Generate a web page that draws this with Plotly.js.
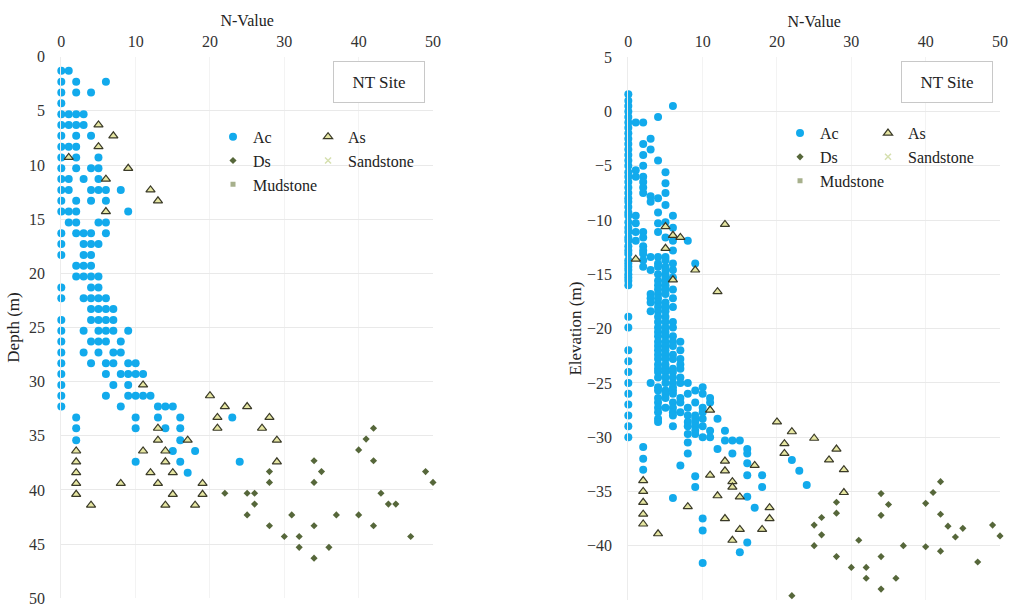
<!DOCTYPE html>
<html><head><meta charset="utf-8">
<script src="https://cdn.plot.ly/plotly-3.0.1.min.js"></script>
<style>html,body{margin:0;padding:0;background:#fff}#chart{width:1010px;height:608px}</style>
</head><body><div id="chart"></div>
<script>
// ---------- Left panel: N-value vs Depth ----------
const leftAcDepths = [1.3,2.3,3.3,4.3,5.3,6.3,7.3,8.3,9.3,10.3,11.3,12.3,13.3,14.3,15.3,16.3,17.3,18.3,19.3,20.3,
  21.3,22.3,23.3,24.3,25.3,26.3,27.3,28.3,29.3,30.3,31.3,32.3,33.3,34.3,35.4,36.4,37.4,38.4];
const leftAcNByRow = [[0,1],[0,2,6],[0,2,4],[0],[0,1,2,3],[0,1,2,3],[0,2,4],[0,1,2],[0,2,5],[0,2,4,5],
  [0,1,3,5],[0,1,4,5,6,8],[0,2,4,6],[0,1,2,9],[1,2,5,6],[0,2,3,4,6],[0,3,4,5],[0,3,4],[2,3,4],[2,3,4,5],
  [0,4,5],[0,3,4,5,6],[4,5,6,7],[0,4,5,6,7],[0,3,5,6,7,9],[0,4,5,6,8],[0,3,5,7,8],[0,4,6,7,9,10],[0,6,8,9,10,11],[0,7,9],
  [0,6,9,10,11,12],[0,8,13,14,15],[2,10,13,16,23],[2,10,14,16],[2,16],[15,18],[10,16,24],[17]];
const leftAsDepths = [6.3,7.3,8.3,9.3,10.3,11.3,12.3,13.3,14.3,30.3,31.3,32.3,33.3,34.3,35.4,36.4,37.4,38.4,39.4,40.4,41.4];
const leftAsNByRow = [[5],[7],[5],[1],[9],[6],[12],[13],[6],[11],[20],[22,25],[21,28],[13,21,27],[13,17,29],[2,11,14],
  [2,14,29],[2,12,15],[2,8,13,19],[2,15,19],[4,14,18]];
const leftDsDepths = [34.3,35.3,36.3,37.3,38.3,39.3,40.3,41.3,42.3,43.3,44.3,45.3,46.3];
const leftDsNByRow = [[42],[41],[40],[34,42],[28,35,49],[28,34,50],[22,25,26,43],[26,44,45],[25,31,37,40],[28,34,42],
  [30,32,47],[32,36],[34]];

// ---------- Right panel: N-value vs Elevation ----------
const rightAcElevs = [1.6,1.0,0.5,0.0,-0.5,-1.0,-1.5,-2.0,-2.5,-3.0,-3.5,-4.0,-4.5,-5.0,-5.4,-5.6,-6.0,-6.5,-6.6,-7.0,
  -7.5,-7.8,-8.0,-8.3,-8.6,-8.8,-9.3,-9.6,-10.2,-10.3,-10.7,-11.1,-11.6,-11.9,-12.4,-12.8,-13.1,-13.4,-13.7,-14.0,
  -14.3,-14.6,-15.0,-15.3,-15.6,-16.0,-16.4,-16.8,-17.2,-17.6,-18.0,-18.4,-18.9,-19.4,-19.9,-20.3,-20.7,-21.2,-21.6,-22.0,
  -22.4,-22.8,-23.0,-23.3,-23.7,-24.0,-24.5,-25.0,-25.4,-25.7,-26.0,-26.4,-26.8,-27.0,-27.3,-27.7,-28.0,-28.3,-28.6,-29.0,
  -29.4,-29.7,-30.0,-30.3,-30.5,-30.9,-31.1,-31.5,-32.0,-32.1,-32.4,-32.6,-33.0,-33.1,-33.5,-33.6,-34.4,-34.6,-35.5,-35.6,
  -36.5,-37.5,-38.6,-39.7,-40.6,-41.6];
const rightAcNByRow = [[0],[0],[0,6],[0],[0,4],[0,1,2],[0],[0],[0,3],[0,2],[0,3],[0,2],[0,4],[0,2],[1],[0,5],[0,1,2],[0,2],[5],[0,2],
  [0,2,5],[3],[0,4],[0,3],[5],[0],[0,4],[0,1,6],[0,5],[1,4],[0,6],[0,1,2,4],[0,2,5],[0,1,6,8],[0,2],[0,2,6],[0,2],[3,4,5],[0,2,5],[0,4,6,9],
  [0,2,4,5],[0,3,5,6],[0,4,5],[0,5,6],[0,4,5],[0,4,5],[4,5,6],[3,4,5],[3,4,6],[3,4,5],[4,5,6],[3,4,5],[0,4,5],[4,5,6],[0,4,5,6],[4,5],[4,5,6],[4,5,6,7],[4,5,6],[0,4,5,7],
  [4,5,6],[4,5,6,7],[0],[4,5,7],[4,5,6,7],[0,4,5,6],[4,5,6,7],[0,3,5,6,7,8],[4,6,10],[4,5,6,9],[0,5,6,8,10],[4,5,7,11],[4,6,7,9,11],[0],[4,5,6,8,10],[4,6,7,10],[0,6,8,9],[4,9,10,12],[4,8,9],[0,6,8,9,10],
  [9,11,13],[8,9],[0,10,11],[13,14,15],[8],[2],[12,16],[8,14,16],[2],[22],[16],[7],[2],[23],[16,18],[9],[24],[9,18],[16],[6],
  [17],[10],[10],[16],[15],[10]];
const rightAsElevs = [-10.4,-10.6,-11.4,-11.6,-12.6,-13.6,-14.6,-15.5,-16.6,-27.5,-28.6,-29.5,-30.1,-30.6,-31.1,-31.5,-32.1,
  -32.2,-32.6,-33.0,-33.1,-33.5,-34.0,-34.1,-34.6,-35.0,-35.1,-35.4,-35.5,-36.0,-36.4,-36.5,-37.1,-37.5,-38.0,-38.5,-38.9,-39.5];
const rightAsNByRow = [[13],[5],[6],[7],[5],[1],[9],[6],[12],[11],[20],[22],[25],[21],[28],[21],[27],
  [13],[17],[29],[13],[11],[2],[14],[14],[2],[29],[12],[15],[2],[8],[19],[2],[13,19],[2],[15,18],[4],[14]];
const rightDsElevs = [-34.1,-35.1,-35.2,-36.0,-36.1,-36.2,-37.0,-37.1,-37.2,-37.4,-38.1,-38.2,-38.4,-39.0,-39.1,-39.2,-39.5,
  -40.0,-40.1,-40.5,-41.0,-41.5,-42.0,-43.0,-44.0,-44.6];
const rightDsNByRow = [[42],[41],[34],[28],[40],[35],[28],[42],[34],[26],[25,49],[43],[45],[26],[50],[44],[31],
  [25,37],[40],[42],[28,34],[47],[30,32],[32,36],[34],[22]];

const legendLabels = ['Ac','As','Ds','Sandstone','Mudstone'];
const xTickVals = [0,10,20,30,40,50];
const depthTickVals = [0,5,10,15,20,25,30,35,40,45,50];
const elevTickVals = [5,0,-5,-10,-15,-20,-25,-30,-35,-40,-45];

function flat(levels, rows){
  const x=[], y=[];
  rows.forEach((r,i)=>r.forEach(n=>{x.push(n); y.push(levels[i]);}));
  return {x, y};
}

const FONT = '"Liberation Serif", "Times New Roman", serif';
const cAc = '#12AAEC', cAsFill = '#E6E6A2', cAsLine = '#3a3a28', cDs = '#56673A', cSand = '#D6E0B0', cMud = '#A7B08C';
const none = {x:[null], y:[null]};

function makeTraces(side, xa, ya, lg1, lg2, ac, as, ds){
  const base = {type:'scatter', mode:'markers', xaxis:xa, yaxis:ya, cliponaxis:false, hoverinfo:'x+y', showlegend:true};
  return [
    Object.assign({}, base, {name:legendLabels[0], x:ac.x, y:ac.y, legend:lg1, legendgroup:side+'a',
      marker:{symbol:'circle', size:8, color:cAc}}),
    Object.assign({}, base, {name:legendLabels[2], x:ds.x, y:ds.y, legend:lg1, legendgroup:side+'c',
      marker:{symbol:'diamond', size:5.5, color:cDs}}),
    Object.assign({}, base, {name:legendLabels[4], x:none.x, y:none.y, legend:lg1, legendgroup:side+'e',
      marker:{symbol:'square', size:5, color:cMud}}),
    Object.assign({}, base, {name:legendLabels[1], x:as.x, y:as.y, legend:lg2, legendgroup:side+'b',
      marker:{symbol:'triangle-up', size:8, color:cAsFill, line:{color:cAsLine, width:1.2}}}),
    Object.assign({}, base, {name:legendLabels[3], x:none.x, y:none.y, legend:lg2, legendgroup:side+'d',
      marker:{symbol:'x-thin', size:6, color:cSand, line:{color:cSand, width:1.5}}})
  ];
}

const traces = [].concat(
  makeTraces('L','x','y','legend','legend2',
    flat(leftAcDepths,leftAcNByRow), flat(leftAsDepths,leftAsNByRow), flat(leftDsDepths,leftDsNByRow)),
  makeTraces('R','x2','y2','legend3','legend4',
    flat(rightAcElevs,rightAcNByRow), flat(rightAsElevs,rightAsNByRow), flat(rightDsElevs,rightDsNByRow))
);

const tickFont = {family:FONT, size:16, color:'#333'};
const titleFont = {family:FONT, size:16, color:'#222'};
function xax(domain, anchor){
  return {domain, anchor, side:'top', range:[0,50], tickvals:xTickVals, ticks:'', ticklabelstandoff:6,
    ticklabeloverflow:'allow', showgrid:true, gridcolor:'#f3f3f3', zeroline:false, showline:false, tickfont:tickFont,
    title:{text:'N-Value', font:titleFont, standoff:1}, fixedrange:true};
}
function yax(domain, anchor, range, tv, title, standoff){
  return {domain, anchor, range, tickvals:tv, ticks:'', ticklabelstandoff:12,
    showgrid:true, gridcolor:'#e9e9e9', zeroline:false, showline:true, linecolor:'#ececec',
    tickfont:tickFont, title:{text:title, font:{family:FONT, size:17, color:'#222'}, standoff:standoff}, fixedrange:true};
}
const legFont = {family:FONT, size:16, color:'#222'};
function leg(x, y){ return {x, y, xanchor:'left', yanchor:'top', bgcolor:'rgba(0,0,0,0)', font:legFont,
  orientation:'v', traceorder:'normal', itemwidth:30, tracegroupgap:0}; }

const layout = {
  width:1010, height:608, margin:{l:0,r:0,t:0,b:0}, paper_bgcolor:'#fff', plot_bgcolor:'#fff',
  font:{family:FONT},
  xaxis: xax([0.0607,0.4287],'y'),
  yaxis: yax([0.016,0.9067],'x',[50,0],depthTickVals,'Depth (m)',5),
  xaxis2: xax([0.6221,0.9901],'y2'),
  yaxis2: yax([0.0132,0.9058],'x2',[-45,5],elevTickVals,'Elevation (m)',1),
  legend: leg(0.2109,0.803), legend2: leg(0.305,0.803),
  legend3: leg(0.7723,0.809), legend4: leg(0.8594,0.809),
  annotations:[
    {text:'NT Site', xref:'paper', yref:'paper', x:378.5/1010, y:1-81.5/608, xanchor:'center', yanchor:'middle',
     showarrow:false, font:{family:FONT,size:17,color:'#222'}, bordercolor:'#c8c8c8', borderwidth:1, width:88, height:38, bgcolor:'#fff'},
    {text:'NT Site', xref:'paper', yref:'paper', x:946.7/1010, y:1-81.7/608, xanchor:'center', yanchor:'middle',
     showarrow:false, font:{family:FONT,size:17,color:'#222'}, bordercolor:'#c8c8c8', borderwidth:1, width:88, height:38, bgcolor:'#fff'}
  ]
};
Plotly.newPlot('chart', traces, layout, {staticPlot:true, displayModeBar:false});
</script></body></html>
